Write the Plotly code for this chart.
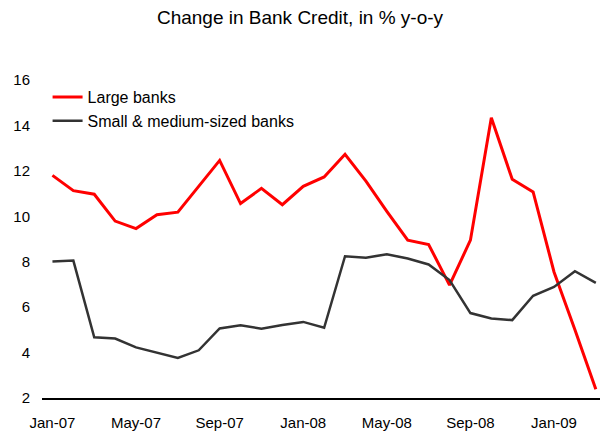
import plotly.graph_objects as go

months = ["Jan-07","Feb-07","Mar-07","Apr-07","May-07","Jun-07","Jul-07","Aug-07","Sep-07","Oct-07","Nov-07","Dec-07",
          "Jan-08","Feb-08","Mar-08","Apr-08","May-08","Jun-08","Jul-08","Aug-08","Sep-08","Oct-08","Nov-08","Dec-08",
          "Jan-09","Feb-09","Mar-09"]
large_banks = [11.80, 11.13, 10.97, 9.79, 9.46, 10.07, 10.18, 11.32, 12.46, 10.56, 11.23, 10.51,
               11.32, 11.73, 12.73, 11.55, 10.22, 8.95, 8.76, 6.97, 8.95, 14.34, 11.63, 11.07,
               7.55, 5.00, 2.38]
small_medium = [8.01, 8.05, 4.67, 4.62, 4.23, 3.99, 3.76, 4.10, 5.06, 5.20, 5.05, 5.21,
                5.35, 5.09, 8.24, 8.18, 8.33, 8.14, 7.88, 7.19, 5.74, 5.50, 5.43, 6.50,
                6.89, 7.58, 7.07]
tick_labels = ["Jan-07","May-07","Sep-07","Jan-08","May-08","Sep-08","Jan-09"]
y_ticks = [2, 4, 6, 8, 10, 12, 14, 16]

fig = go.Figure()
fig.add_trace(go.Scatter(x=months, y=large_banks, mode="lines", name="Large banks",
                         line=dict(color="#ff0000", width=3)))
fig.add_trace(go.Scatter(x=months, y=small_medium, mode="lines", name="Small & medium-sized banks",
                         line=dict(color="#333333", width=2.5)))

fig.update_layout(
    width=600, height=437,
    margin=dict(l=42, r=0, t=80, b=39),
    paper_bgcolor="white", plot_bgcolor="white",
    font=dict(family="Liberation Sans, Arial, sans-serif", size=15, color="black"),
    title=dict(text="Change in Bank Credit, in % y-o-y", x=0.5, xanchor="center",
               y=0.96, yanchor="middle", font=dict(size=19)),
    legend=dict(x=0.01, y=1.0, xanchor="left", yanchor="top", bgcolor="rgba(0,0,0,0)",
                font=dict(size=16), tracegroupgap=0, itemwidth=30),
    showlegend=True,
)
fig.update_xaxes(type="category", range=[-0.5, 26.2], tickmode="array", tickvals=tick_labels,
                 ticktext=tick_labels, showgrid=False, showline=True, linecolor="black", linewidth=1.5,
                 ticks="outside", ticklen=10, tickcolor="rgba(0,0,0,0)", tickfont=dict(size=15))
fig.update_yaxes(range=[2, 16], tickvals=y_ticks, showgrid=False, showline=False, zeroline=False,
                 ticks="outside", ticklen=8, tickcolor="rgba(0,0,0,0)", tickfont=dict(size=15))

fig.write_html("out.html")
